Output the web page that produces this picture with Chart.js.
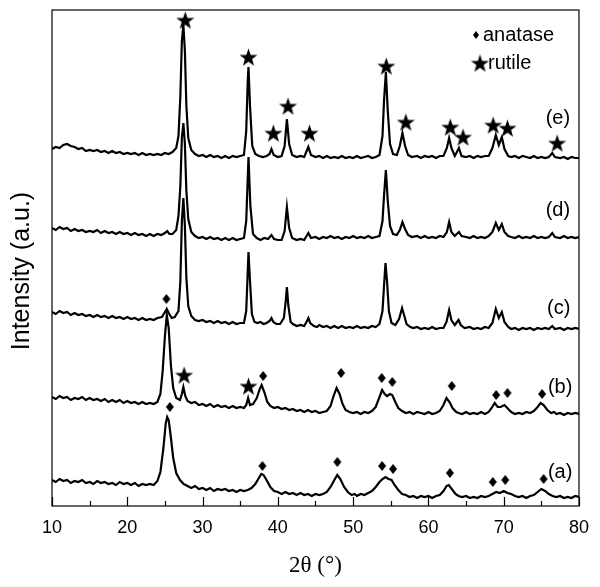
<!DOCTYPE html>
<html>
<head>
<meta charset="utf-8">
<script src="https://cdn.jsdelivr.net/npm/chart.js@4.4.1/dist/chart.umd.min.js"></script>
<style>
  body { margin: 0; background: #fff; }
  #xrd { display: block; }
</style>
</head>
<body>
<canvas id="xrd" width="600" height="587"></canvas>
<script>
// 2theta (deg) / intensity pairs, traces already offset (a) -> (e)
const traceA = [
  [10,26],[10.5,24],[11,27],[11.5,25],[12,26],[12.5,23],[13,25],[13.5,24],[14,26],[14.5,23],
  [15,24],[15.5,22],[16,25],[16.5,23],[17,24],[17.5,22],[18,23],[18.5,21],[19,24],[19.5,22],
  [20,23],[20.5,21],[21,23],[21.5,20],[22,22],[22.5,21],[23,22],[23.5,21],[24,25],[24.4,34],
  [24.8,58],[25.1,82],[25.3,89],[25.5,86],[25.8,68],[26.1,48],[26.5,33],[27,26],[27.5,22],[28,20],
  [28.5,18],[29,20],[29.5,17],[30,18],[30.5,16],[31,18],[31.5,15],[32,17],[32.5,16],[33,17],
  [33.5,15],[34,16],[34.5,14],[35,16],[35.5,15],[36,16],[36.5,18],[37,22],[37.4,27],[37.8,32],
  [38.1,31],[38.5,26],[39,19],[39.5,15],[40,14],[40.5,12],[41,14],[41.5,12],[42,13],[42.5,11],
  [43,13],[43.5,11],[44,12],[44.5,10],[45,12],[45.5,11],[46,12],[46.5,14],[47,19],[47.5,26],
  [47.9,31],[48.3,27],[48.8,19],[49.3,14],[49.8,11],[50.2,12],[50.5,10],[51,12],[51.5,11],[52,13],
  [52.5,15],[53,19],[53.5,24],[53.9,27],[54.3,29],[54.7,27],[55.1,26],[55.5,21],[56,16],[56.5,12],
  [57,11],[57.5,9],[58,10],[58.5,8],[59,10],[59.5,9],[60,10],[60.5,8],[61,10],[61.5,11],
  [62,15],[62.4,20],[62.7,21],[63.1,17],[63.6,12],[64,10],[64.5,9],[65,10],[65.5,8],[66,9],
  [66.5,8],[67,10],[67.5,9],[68,10],[68.5,12],[69,14],[69.5,13],[70,15],[70.5,13],[71,12],
  [71.5,10],[72,9],[72.5,10],[73,8],[73.5,10],[74,11],[74.5,14],[75,17],[75.5,15],[76,12],
  [76.5,10],[77,9],[77.5,10],[78,8],[78.5,9],[79,8],[79.5,10],[80,9]
];
const traceB = [
  [10,109],[10.5,107],[11,110],[11.5,108],[12,109],[12.5,106],[13,108],[13.5,107],[14,109],[14.5,106],
  [15,108],[15.5,106],[16,107],[16.5,105],[17,107],[17.5,104],[18,106],[18.5,104],[19,106],[19.5,103],
  [20,105],[20.5,103],[21,104],[21.5,102],[22,104],[22.5,102],[23,103],[23.5,102],[24,104],[24.4,112],
  [24.7,135],[25,170],[25.25,191],[25.5,178],[25.8,140],[26.1,118],[26.5,108],[27,106],[27.25,112],[27.45,119],
  [27.7,110],[28,105],[28.5,103],[29,104],[29.5,101],[30,102],[30.5,100],[31,102],[31.5,99],[32,101],
  [32.5,99],[33,100],[33.5,98],[34,100],[34.5,98],[35,99],[35.5,98],[35.8,101],[36.05,108],[36.3,101],
  [36.7,102],[37.2,108],[37.6,117],[37.85,121],[38.2,114],[38.6,104],[39,100],[39.5,98],[40,99],[40.5,97],
  [41,98],[41.5,96],[42,97],[42.5,95],[43,96],[43.5,94],[44,96],[44.5,94],[45,95],[45.5,93],
  [46,94],[46.5,95],[47,100],[47.4,110],[47.8,118],[48.2,112],[48.6,102],[49,96],[49.5,94],[50,93],
  [50.5,94],[51,92],[51.5,94],[52,93],[52.5,95],[53,99],[53.5,109],[53.85,116],[54.2,112],[54.5,110],
  [54.9,112],[55.2,111],[55.6,104],[56,98],[56.5,95],[57,93],[57.5,94],[58,92],[58.5,94],[59,93],
  [59.5,92],[60,94],[60.5,92],[61,93],[61.5,95],[62,101],[62.4,108],[62.8,104],[63.2,98],[63.7,94],
  [64,93],[64.5,92],[65,94],[65.5,92],[66,93],[66.5,92],[67,94],[67.5,92],[68,94],[68.4,98],
  [68.8,103],[69.2,99],[69.6,99],[70.1,101],[70.6,97],[71,94],[71.5,92],[72,93],[72.5,92],[73,94],
  [73.5,93],[74,95],[74.5,99],[74.9,103],[75.3,101],[75.8,96],[76.3,93],[76.7,94],[77,92],[77.5,93],
  [78,91],[78.5,93],[79,92],[79.5,93],[80,92]
];
const traceC = [
  [10,194],[10.5,192],[11,195],[11.5,193],[12,194],[12.5,191],[13,193],[13.5,191],[14,192],[14.5,190],
  [15,191],[15.5,189],[16,191],[16.5,189],[17,190],[17.5,188],[18,190],[18.5,188],[19,189],[19.5,187],
  [20,189],[20.5,187],[21,188],[21.5,186],[22,188],[22.5,186],[23,187],[23.5,186],[24,188],[24.6,189],
  [25,194],[25.25,197],[25.5,193],[25.9,188],[26.3,189],[26.8,195],[27.05,225],[27.25,285],[27.45,308],[27.65,280],
  [27.85,228],[28.1,200],[28.5,190],[29,186],[29.5,185],[30,186],[30.5,184],[31,185],[31.5,183],[32,185],
  [32.5,183],[33,184],[33.5,182],[34,184],[34.5,182],[35,183],[35.5,183],[35.8,195],[36.1,254],[36.3,225],
  [36.55,192],[36.9,184],[37.3,183],[37.7,184],[38.1,182],[38.5,183],[38.9,185],[39.15,188],[39.4,184],[39.8,182],
  [40.3,182],[40.8,188],[41.05,205],[41.2,219],[41.4,200],[41.7,184],[42,182],[42.5,180],[43,181],[43.5,180],
  [43.8,184],[44.05,188],[44.3,183],[44.8,180],[45.2,179],[45.5,181],[46,179],[46.5,180],[47,178],[47.5,180],
  [48,178],[48.5,180],[49,178],[49.5,179],[50,178],[50.5,180],[51,178],[51.5,179],[52,178],[52.5,180],
  [53,179],[53.5,182],[53.9,195],[54.1,220],[54.3,243],[54.5,225],[54.75,195],[55.1,183],[55.6,181],[56.1,187],
  [56.5,198],[56.8,190],[57.1,182],[57.6,179],[58,178],[58.5,179],[59,177],[59.5,178],[60,177],[60.5,179],
  [61,177],[61.5,178],[62,178],[62.4,184],[62.75,196],[63.05,186],[63.5,181],[64,186],[64.3,181],[64.8,178],
  [65.5,179],[66,177],[66.5,178],[67,177],[67.5,179],[68,178],[68.5,183],[68.95,197],[69.35,188],[69.75,194],
  [70.1,184],[70.6,179],[71,177],[71.5,178],[72,176],[72.5,178],[73,177],[73.5,178],[74,176],[74.5,178],
  [75,177],[75.5,178],[76,177],[76.45,180],[76.8,177],[77.5,178],[78,176],[78.5,178],[79,177],[79.5,178],
  [80,177]
];
const traceD = [
  [10,278],[10.5,276],[11,279],[11.5,277],[12,278],[12.5,275],[13,277],[13.5,275],[14,276],[14.5,274],
  [15,275],[15.5,274],[16,276],[16.5,273],[17,275],[17.5,273],[18,274],[18.5,272],[19,274],[19.5,272],
  [20,273],[20.5,271],[21,273],[21.5,271],[22,272],[22.5,270],[23,272],[23.5,270],[24,272],[24.5,271],
  [25,273],[25.3,275],[25.6,272],[26,272],[26.5,276],[26.8,290],[27.05,320],[27.25,368],[27.45,383],[27.65,362],
  [27.85,315],[28.1,287],[28.5,274],[29,270],[29.5,268],[30,269],[30.5,267],[31,269],[31.5,267],[32,268],
  [32.5,266],[33,268],[33.5,266],[34,268],[34.5,266],[35,267],[35.5,268],[35.8,285],[36.1,349],[36.35,300],
  [36.7,272],[37.2,268],[37.7,266],[38.2,268],[38.7,267],[39.15,271],[39.5,267],[40,266],[40.5,266],[40.9,275],
  [41.2,299],[41.5,278],[41.9,268],[42.5,266],[43,267],[43.5,266],[44.05,273],[44.4,268],[45,269],[45.5,267],
  [46,269],[46.5,268],[47,270],[47.5,268],[48,269],[48.5,267],[49,269],[49.5,268],[50,270],[50.5,268],
  [51,269],[51.5,268],[52,270],[52.5,268],[53,269],[53.5,270],[53.9,285],[54.1,310],[54.35,336],[54.6,305],
  [54.9,280],[55.3,272],[55.8,271],[56.2,276],[56.55,284],[56.9,277],[57.3,271],[57.8,269],[58.5,270],[59,268],
  [59.5,270],[60,268],[60.5,269],[61,268],[61.5,270],[62,269],[62.45,274],[62.75,284],[63.05,274],[63.5,270],
  [64.05,274],[64.4,270],[65,269],[65.5,268],[66,270],[66.5,268],[67,269],[67.5,268],[68,270],[68.5,274],
  [68.95,283],[69.35,276],[69.75,282],[70.1,274],[70.6,270],[71,269],[71.5,268],[72,270],[72.5,268],[73,269],
  [73.5,268],[74,270],[74.5,268],[75,269],[75.5,268],[76,269],[76.45,273],[76.8,269],[77.5,268],[78,270],
  [78.5,268],[79,269],[79.5,268],[80,269]
];
const traceE = [
  [10,357],[10.5,359],[11,358],[11.5,361],[12,362],[12.5,360],[13,359],[13.5,357],[14,358],[14.5,355],
  [15,356],[15.5,355],[16,356],[16.5,354],[17,355],[17.5,353],[18,355],[18.5,353],[19,354],[19.5,352],
  [20,353],[20.5,352],[21,353],[21.5,351],[22,353],[22.5,351],[23,352],[23.5,351],[24,352],[24.5,351],
  [25,353],[25.5,352],[26,354],[26.5,358],[26.8,370],[27.05,410],[27.25,465],[27.45,481],[27.65,455],[27.85,400],
  [28.1,368],[28.5,356],[29,352],[29.5,350],[30,351],[30.5,349],[31,351],[31.5,349],[32,350],[32.5,348],
  [33,350],[33.5,348],[34,350],[34.5,349],[35,350],[35.5,351],[35.8,375],[36,425],[36.1,439],[36.3,400],
  [36.6,360],[37,352],[37.5,350],[38,349],[38.5,350],[38.9,352],[39.15,357],[39.45,351],[40,349],[40.5,350],
  [40.9,360],[41.2,387],[41.5,362],[41.9,351],[42.5,349],[43,350],[43.5,349],[44.05,359],[44.4,351],[45,349],
  [45.5,350],[46,348],[46.5,350],[47,348],[47.5,349],[48,348],[48.5,350],[49,348],[49.5,349],[50,348],
  [50.5,350],[51,348],[51.5,349],[52,350],[52.5,348],[53,349],[53.5,351],[53.9,370],[54.1,405],[54.35,434],
  [54.6,395],[54.9,362],[55.3,352],[55.8,351],[56.2,360],[56.55,373],[56.9,360],[57.3,351],[57.8,349],[58.5,350],
  [59,348],[59.5,350],[60,349],[60.5,350],[61,348],[61.5,350],[62,350],[62.45,358],[62.75,368],[63.05,358],
  [63.5,350],[64.05,358],[64.4,350],[65,349],[65.5,350],[66,348],[66.5,350],[67,349],[67.5,350],[68,350],
  [68.5,358],[68.95,371],[69.35,361],[69.75,369],[70.1,357],[70.6,350],[71,349],[71.5,350],[72,348],[72.5,350],
  [73,349],[73.5,348],[74,350],[74.5,348],[75,349],[75.5,348],[76,349],[76.45,353],[76.8,349],[77.5,348],
  [78,349],[78.5,347],[79,349],[79.5,348],[80,348]
];

// phase markers
const rutileTheta = [27.7, 36.1, 39.4, 41.35, 44.2, 54.4, 57.0, 62.9, 64.6, 68.6, 70.5, 77.1, 27.55, 36.1];
const rutileY     = [486, 449, 373, 400, 373, 440, 384, 379, 369, 381, 378, 363, 131, 120];
const anataseTheta = [25.2, 38.05, 48.4, 53.8, 55.2, 63.1, 69.0, 70.5, 75.1,
                      25.65, 37.95, 47.9, 53.85, 55.3, 62.85, 68.55, 70.2, 75.3];
const anataseY     = [207, 130, 133, 128, 124, 120, 111, 113, 112,
                      99, 40, 44, 40, 37, 33, 24, 26, 27];

// sample labels
const sampleNames = ["(a)", "(b)", "(c)", "(d)", "(e)"];
const sampleTheta = [77.5, 77.5, 77.3, 77.2, 77.2];
const sampleY     = [34, 119, 198, 296, 388];

const xTicks = [10, 20, 30, 40, 50, 60, 70, 80];

// marker images
function makeStar(r) {
  const c = document.createElement("canvas");
  c.width = c.height = Math.ceil(r * 2) + 2;
  const g = c.getContext("2d");
  const cx = c.width / 2, cy = c.height / 2 + r * 0.1;
  g.beginPath();
  for (let i = 0; i < 10; i++) {
    const rr = i % 2 === 0 ? r : r * 0.4;
    const a = -Math.PI / 2 + i * Math.PI / 5;
    g.lineTo(cx + rr * Math.cos(a), cy + rr * Math.sin(a));
  }
  g.closePath();
  g.fillStyle = "#000";
  g.fill();
  return c;
}
function makeDiamond(w, h) {
  const c = document.createElement("canvas");
  c.width = w + 2; c.height = h + 2;
  const g = c.getContext("2d");
  g.beginPath();
  g.moveTo(c.width / 2, 1);
  g.lineTo(c.width - 1, c.height / 2);
  g.lineTo(c.width / 2, c.height - 1);
  g.lineTo(1, c.height / 2);
  g.closePath();
  g.fillStyle = "#000";
  g.fill();
  return c;
}
const starImg = makeStar(9.5);
const diamondImg = makeDiamond(8, 10);
const legendStar = makeStar(9.5);
const legendDiamond = makeDiamond(6, 8);

const toPoints = arr => arr.map(p => ({ x: p[0], y: p[1] }));
const zipPoints = (xs, ys) => xs.map((x, i) => ({ x: x, y: ys[i] }));

const traceStyle = {
  showLine: true,
  borderColor: "#000",
  borderWidth: 2.2,
  pointRadius: 0,
  tension: 0
};

const frame = {
  id: "frame",
  afterDraw(chart) {
    const { ctx, chartArea: a, scales: { x, y } } = chart;
    ctx.save();
    ctx.strokeStyle = "#000";
    ctx.lineWidth = 1.2;
    ctx.strokeRect(a.left, a.top, a.right - a.left, a.bottom - a.top);
    // inward ticks on the bottom axis
    for (let t = 10; t <= 80; t += 5) {
      const px = Math.round(x.getPixelForValue(t)) + 0.5;
      const len = t % 10 === 0 ? 9 : 5;
      ctx.beginPath();
      ctx.moveTo(px, a.bottom);
      ctx.lineTo(px, a.bottom - len);
      ctx.stroke();
    }
    ctx.fillStyle = "#000";
    // y title
    ctx.save();
    ctx.translate(22, 271);
    ctx.rotate(-Math.PI / 2);
    ctx.font = "25px 'Liberation Sans', Arial, sans-serif";
    ctx.textAlign = "center";
    ctx.textBaseline = "middle";
    ctx.fillText("Intensity (a.u.)", 0, 0);
    ctx.restore();
    // sample labels
    ctx.font = "20px 'Liberation Sans', Arial, sans-serif";
    ctx.textAlign = "center";
    ctx.textBaseline = "middle";
    sampleNames.forEach((s, i) => {
      ctx.fillText(s, x.getPixelForValue(sampleTheta[i]), y.getPixelForValue(sampleY[i]));
    });
    // legend
    const lx = a.right - 103;
    ctx.drawImage(legendDiamond, lx - legendDiamond.width / 2, 35 - legendDiamond.height / 2);
    ctx.drawImage(legendStar, lx + 4 - legendStar.width / 2, 63 - legendStar.height / 2);
    ctx.textAlign = "left";
    ctx.fillText("anatase", lx + 7, 35);
    ctx.fillText("rutile", lx + 12, 63);
    ctx.restore();
  }
};

new Chart(document.getElementById("xrd"), {
  type: "scatter",
  data: {
    datasets: [
      Object.assign({ label: "a", data: toPoints(traceA) }, traceStyle),
      Object.assign({ label: "b", data: toPoints(traceB) }, traceStyle),
      Object.assign({ label: "c", data: toPoints(traceC) }, traceStyle),
      Object.assign({ label: "d", data: toPoints(traceD) }, traceStyle),
      Object.assign({ label: "e", data: toPoints(traceE) }, traceStyle),
      { label: "rutile", data: zipPoints(rutileTheta, rutileY), pointStyle: starImg, pointRadius: 9, showLine: false },
      { label: "anatase", data: zipPoints(anataseTheta, anataseY), pointStyle: diamondImg, pointRadius: 5, showLine: false }
    ]
  },
  options: {
    responsive: false,
    animation: false,
    layout: { padding: { top: 10, right: 17, left: 0, bottom: 0 } },
    plugins: { legend: { display: false }, tooltip: { enabled: false } },
    scales: {
      x: {
        type: "linear",
        min: 10,
        max: 80,
        afterBuildTicks: s => { s.ticks = xTicks.map(v => ({ value: v })); },
        ticks: { color: "#000", padding: 11, font: { family: "'Liberation Sans', Arial, sans-serif", size: 18 } },
        grid: { display: false, drawTicks: false },
        border: { display: false },
        title: {
          display: true,
          text: "2θ (°)",
          color: "#000",
          font: { family: "'Liberation Serif', 'Times New Roman', serif", size: 23 },
          padding: { top: 0, bottom: 7 }
        },
        afterFit: s => { s.height = 81; }
      },
      y: {
        min: 0,
        max: 496,
        ticks: { display: false },
        grid: { display: false, drawTicks: false },
        border: { display: false },
        afterFit: s => { s.width = 52; }
      }
    }
  },
  plugins: [frame]
});
</script>
</body>
</html>
